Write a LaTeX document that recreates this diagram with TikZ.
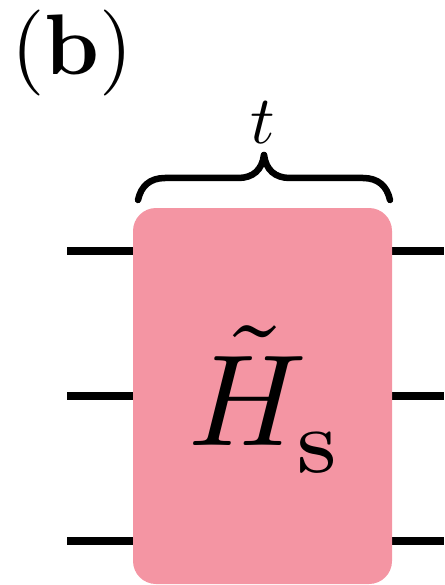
\documentclass[tikz,border=0pt]{standalone}
\definecolor{boxpink}{HTML}{F495A3}
\tikzset{wire/.style={line width=8.5pt,black},
bracestroke/.style={line width=6.5pt,line cap=round},
gate/.style={draw=none,fill=boxpink,rounded corners=23pt,minimum width=259pt,minimum height=376pt,inner sep=0pt}}
\begin{document}
\begin{tikzpicture}[x=1pt,y=-1pt]
\useasboundingbox (0,0) rectangle (444,585);
\coordinate (l1) at (67,251);\coordinate (l2) at (67,396);\coordinate (l3) at (67,541);
\coordinate (r1) at (444,251);\coordinate (r2) at (444,396);\coordinate (r3) at (444,541);
\draw[wire] (l1)--(r1);\draw[wire] (l2)--(r2);\draw[wire] (l3)--(r3);
\node[gate] (g) at (262.5,396) {};
\node at (266.5,399) {\scalebox{13}{$\tilde H_{\lower0.6pt\hbox{$\scriptstyle\mathrm{s}$}}$}};
\node (b) at (72,53.5) {\scalebox{8.6}{(\textbf{b})}};
\node (t) at (263,123) {\scalebox{6.8}{$t$}};
\coordinate (bl) at (138,200);\coordinate (br) at (390,200);\coordinate (tip) at (264,155);
\draw[bracestroke] (bl) .. controls (141,186) and (150,178) .. (165,178) -- (238,178) .. controls (253,178) and (262,170) .. (tip);
\draw[bracestroke] (br) .. controls (387,186) and (378,178) .. (363,178) -- (290,178) .. controls (275,178) and (266,170) .. (tip);
\end{tikzpicture}
\end{document}
